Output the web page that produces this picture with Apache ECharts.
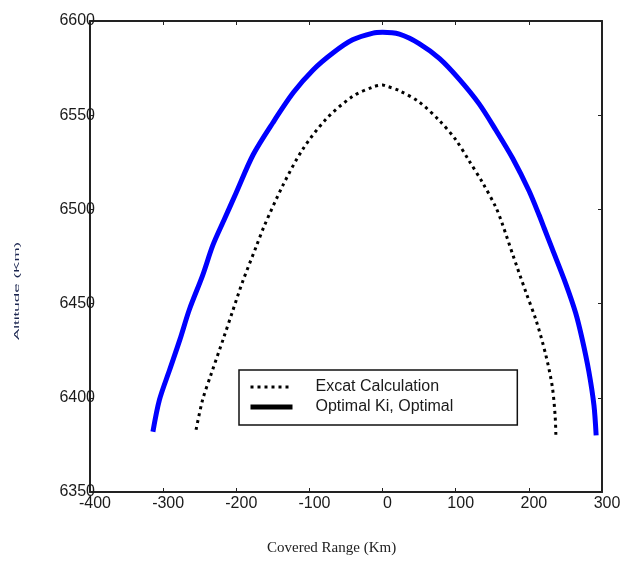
<!DOCTYPE html>
<html>
<head>
<meta charset="utf-8">
<script src="https://cdn.jsdelivr.net/npm/echarts@6/dist/echarts.min.js"></script>
<style>html,body{margin:0;padding:0;background:#fff;}#c{width:633px;height:561px;}</style>
</head>
<body>
<div id="c"></div>
<script>
var xTicks = [-400, -300, -200, -100, 0, 100, 200, 300];
var yTicks = [6350, 6400, 6450, 6500, 6550, 6600];
var seriesNames = ['Excat Calculation', 'Optimal Ki, Optimal'];

var optX = [-314, -305, -291, -277, -264, -246, -232, -216, -200, -177, -150, -122, -95, -68, -41, -13, 0, 23, 50, 78, 105, 132, 155, 178, 200, 214, 221, 232, 250, 264, 273, 282, 289, 292];
var optY = [6382, 6399, 6415, 6431, 6447, 6465, 6481, 6495, 6509, 6529, 6546, 6562, 6574, 6583, 6590, 6593.6, 6594, 6593, 6588, 6580, 6569, 6556, 6542, 6527, 6510, 6497, 6490, 6479, 6461, 6445, 6431, 6414, 6396, 6380];

var exactX = [-255, -246, -234, -218, -205, -191, -173, -162, -136, -109, -77, -41, -13, 0, 5, 23, 50, 78, 100, 118, 137, 155, 164, 178, 196, 210, 223, 232, 236, 237];
var exactY = [6383, 6399, 6413, 6431, 6446, 6462, 6480, 6491, 6513, 6532, 6548, 6560, 6565, 6566, 6565.5, 6563, 6557, 6547, 6537, 6526, 6514, 6501, 6492, 6476, 6456, 6441, 6423, 6406, 6390, 6379];

function pairs(xs, ys) { return xs.map(function (x, i) { return [x, ys[i]]; }); }

var chart = echarts.init(document.getElementById('c'), null, {renderer: 'canvas'});
var labelColor = '#1a1a1a';
var font = 'Liberation Sans, Arial, sans-serif';
var axisLine = {show: true, onZero: false, lineStyle: {color: '#222', width: 2}};
var tick = {show: true, inside: true, length: 4, lineStyle: {color: '#222', width: 1}};
var hideSym = {color: 'rgba(0,0,0,0)', borderColor: 'rgba(0,0,0,0)', borderWidth: 0, opacity: 0};

chart.setOption({
  animation: false,
  backgroundColor: '#fff',
  grid: {left: 90, top: 21, right: 31, bottom: 69, containLabel: false},
  xAxis: [{
    type: 'value', min: xTicks[0], max: xTicks[xTicks.length - 1], interval: 100, position: 'bottom',
    axisLine: axisLine, axisTick: tick, splitLine: {show: false},
    axisLabel: {color: labelColor, fontSize: 16, fontFamily: font, margin: 4, padding: [0, 0, 0, 10],
      formatter: function (v) { return String(v); }}
  }, {
    type: 'value', min: xTicks[0], max: xTicks[xTicks.length - 1], interval: 100, position: 'top',
    axisLine: axisLine, axisTick: tick, splitLine: {show: false}, axisLabel: {show: false}
  }],
  yAxis: [{
    type: 'value', min: yTicks[0], max: yTicks[yTicks.length - 1], interval: 50, position: 'left',
    axisLine: axisLine, axisTick: tick, splitLine: {show: false},
    axisLabel: {color: labelColor, fontSize: 16, fontFamily: font, margin: -5,
      formatter: function (v) { return String(v); }}
  }, {
    type: 'value', min: yTicks[0], max: yTicks[yTicks.length - 1], interval: 50, position: 'right',
    axisLine: axisLine, axisTick: tick, splitLine: {show: false}, axisLabel: {show: false}
  }],
  legend: {
    orient: 'vertical', left: 239, top: 370,
    borderColor: '#111', borderWidth: 1.5, borderRadius: 0,
    padding: [9, 64, 10, 9], itemWidth: 42, itemHeight: 14, itemGap: 4,
    textStyle: {fontSize: 16, fontFamily: font, color: '#1a1a1a', padding: [0, 0, 0, 18]},
    data: [
      {name: seriesNames[0], lineStyle: {color: '#000', width: 3, type: [3, 4]}, itemStyle: hideSym},
      {name: seriesNames[1], lineStyle: {color: '#000', width: 5, type: 'solid'}, itemStyle: hideSym}
    ]
  },
  graphic: [
    {type: 'text', left: 267, top: 541, style: {text: 'Covered Range (Km)', fontSize: 15, fontFamily: 'Liberation Serif, Times New Roman, serif', fill: '#222'}},
    {type: 'text', x: 13, y: 340, rotation: Math.PI / 2, scaleX: 1, scaleY: 0.42, originX: 0, originY: 0,
      style: {text: 'Altitude (Km)', fontSize: 17, fontFamily: font, fill: '#1c2650', align: 'left', verticalAlign: 'top'}}
  ],
  series: [{
    name: seriesNames[0], type: 'line', data: pairs(exactX, exactY),
    showSymbol: false, symbol: 'none', smooth: 0.3,
    lineStyle: {color: '#000', width: 3, type: [3, 4]}, itemStyle: {color: '#000'}
  }, {
    name: seriesNames[1], type: 'line', data: pairs(optX, optY),
    showSymbol: false, symbol: 'none', smooth: 0.3,
    lineStyle: {color: '#0000ff', width: 5}, itemStyle: {color: '#0000ff'}
  }]
});
</script>
</body>
</html>
